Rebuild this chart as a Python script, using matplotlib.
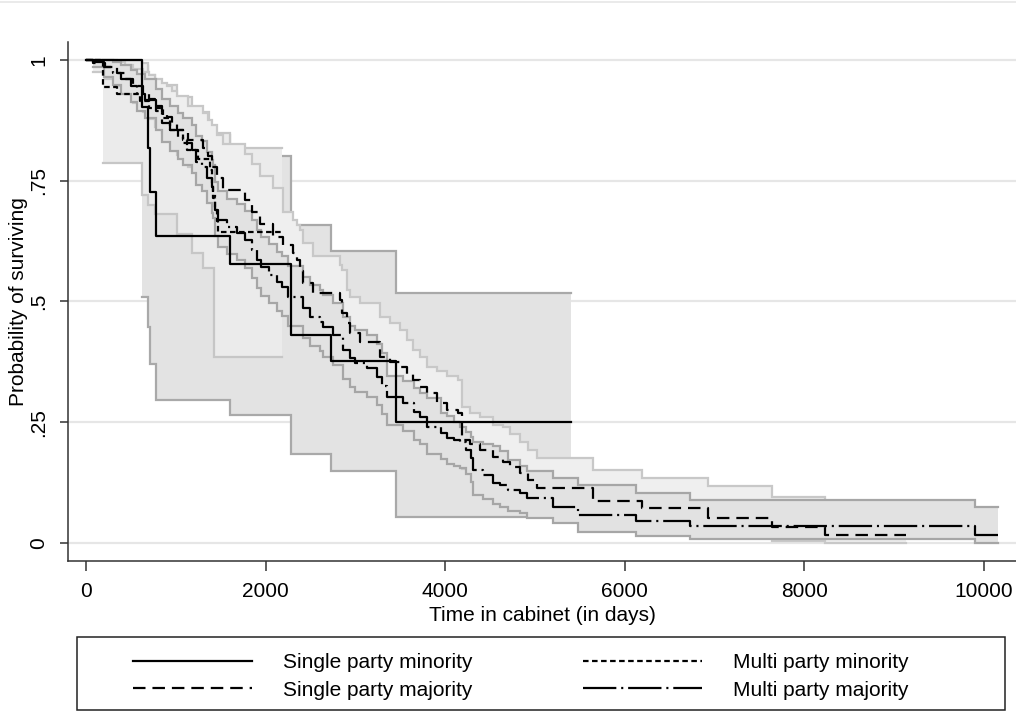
import numpy as np
import matplotlib.pyplot as plt
from matplotlib.patches import Rectangle
from matplotlib.lines import Line2D

plt.rcParams['font.family'] = ['Liberation Sans', 'DejaVu Sans']
plt.rcParams['lines.scale_dashes'] = False

# Kaplan-Meier estimates (time in days, survival probability)
t_spmin = [0, 620, 694, 713, 780, 1604, 2283, 2728, 3449, 5397]
s_spmin = [1, .903, .818, .727, .636, .578, .431, .377, .25, .25]

t_spmaj = [0, 78, 212, 345, 434, 523, 635, 700, 768, 850, 902, 960, 1013, 1136, 1303,
           1359, 1403, 1459, 1526, 1771, 1849, 1938, 2082, 2194, 2305, 2350, 2383, 2416,
           2528, 2828, 2851, 2906, 2940, 3051, 3274, 3385, 3497, 3575, 3641, 3719, 3797,
           3909, 4020, 4142, 4187, 4276, 4387, 4532, 4644, 4722, 4833, 4922, 5022, 5646,
           6191, 6926, 7636, 8229, 9131]
s_spmaj = [1, .994, .985, .973, .96, .945, .93, .918, .905, .893, .882, .868, .855, .834,
           .818, .80, .778, .755, .731, .71, .685, .66, .634, .617, .6, .586, .562, .538,
           .518, .503, .476, .455, .435, .416, .385, .375, .364, .35, .337, .323, .31,
           .29, .275, .269, .213, .205, .193, .178, .167, .157, .145, .13, .114, .087,
           .072, .052, .034, .0166, .0166]

t_mpmin = [0, 190, 345, 600, 700, 860, 940, 1080, 1120, 1250, 1380, 1400, 1420, 1440,
           1459, 1470, 2190]
s_mpmin = [1, .944, .93, .915, .9, .88, .855, .835, .814, .795, .772, .745, .715, .69,
           .667, .644, .644]

t_mpmaj = [0, 78, 200, 301, 390, 500, 568, 660, 780, 850, 935, 1020, 1080, 1180, 1230,
           1290, 1350, 1400, 1420, 1440, 1470, 1570, 1680, 1770, 1850, 1904, 1950, 2040,
           2127, 2180, 2250, 2416, 2490, 2606, 2640, 2750, 2860, 2940, 3000, 3130, 3240,
           3300, 3352, 3530, 3650, 3720, 3800, 3950, 4020, 4100, 4170, 4230, 4290, 4310,
           4420, 4530, 4610, 4700, 4830, 4910, 5200, 5480, 6130, 6725, 9900, 10156]
s_mpmaj = [1, .995, .985, .973, .96, .945, .93, .917, .895, .87, .855, .84, .828, .814,
           .789, .778, .755, .737, .725, .69, .669, .654, .642, .627, .607, .586, .571,
           .555, .54, .53, .51, .486, .468, .458, .447, .43, .40, .383, .373, .362, .344,
           .325, .302, .29, .271, .261, .24, .228, .217, .213, .209, .193, .175, .151,
           .14, .125, .12, .11, .104, .0925, .075, .058, .046, .035, .0166, .0166]

# 95% confidence bands
ci_t_spmin = [620, 694, 713, 780, 1604, 2283, 2728, 3449, 5397]
ci_lo_spmin = [.51, .447, .37, .296, .265, .184, .15, .054, .054]
ci_hi_spmin = [.987, .952, .903, .845, .80, .658, .605, .518, .518]

ci_t_mpmin = [190, 620, 694, 768, 1010, 1177, 1300, 1373, 1425, 1604, 2179]
ci_lo_mpmin = [.786, .72, .70, .68, .64, .60, .57, .57, .386, .386, .386]
ci_hi_mpmin = [1.0, .993, .969, .948, .924, .893, .893, .848, .848, .817, .817]

ci_t_spmaj = t_spmaj[1:]
ci_hi_spmaj = [1.0, 1.0, .995, .99, .982, .975, .968, .96, .952, .945, .935, .925, .905,
               .89, .875, .865, .845, .825, .805, .785, .76, .735, .685, .669, .658, .648,
               .62, .593, .576, .565, .524, .51, .497, .468, .455, .441, .42, .40, .385,
               .364, .355, .345, .337, .282, .27, .26, .245, .24, .225, .21, .193, .175,
               .151, .134, .117, .096, .06, .06]
ci_lo_spmaj = [.975, .96, .945, .93, .91, .893, .878, .862, .848, .835, .818, .803, .778,
               .76, .74, .715, .69, .664, .642, .615, .589, .562, .544, .526, .512, .488,
               .464, .444, .43, .403, .382, .362, .344, .314, .304, .294, .281, .268, .255,
               .243, .224, .21, .204, .153, .146, .135, .122, .112, .103, .093, .08, .066,
               .045, .034, .02, .005, 0.0, 0.0]

ci_t_mpmaj = t_mpmaj[1:]
ci_hi_mpmaj = [1.0, 1.0, .995, .99, .98, .97, .96, .94, .92, .905, .89, .88, .865, .843,
               .832, .81, .793, .782, .748, .728, .713, .702, .687, .668, .648, .633, .618,
               .603, .594, .574, .551, .533, .523, .513, .496, .467, .45, .44, .43, .412,
               .393, .345, .335, .32, .31, .30, .27, .262, .25, .24, .23, .219, .21, .205,
               .20, .19, .172, .16, .148, .134, .12, .103, .089, .074, .074]
ci_lo_mpmaj = [.985, .965, .948, .93, .912, .895, .88, .855, .83, .812, .795, .782, .766,
               .74, .728, .703, .684, .672, .635, .613, .598, .585, .57, .549, .528, .512,
               .496, .48, .47, .45, .425, .407, .397, .386, .369, .34, .323, .313, .302,
               .285, .266, .244, .232, .214, .205, .185, .174, .164, .16, .156, .142, .126,
               .10, .092, .08, .075, .067, .062, .052, .041, .022, .0145, .009, .0006,
               .0006]

labels = ['Single party minority', 'Single party majority',
          'Multi party minority', 'Multi party majority']


def step_xy(t, v):
    t = np.asarray(t, float)
    v = np.asarray(v, float)
    return np.repeat(t, 2)[1:], np.repeat(v, 2)[:-1]


def band(ax, t, lo, hi, fill, edge, z):
    ax.fill_between(t, lo, hi, step='post', facecolor=fill, edgecolor='none', zorder=z)
    for v in (lo, hi):
        x, y = step_xy(t, v)
        ax.plot(x, y, color=edge, lw=1.6, zorder=z + 0.1, solid_joinstyle='miter')


fig = plt.figure(figsize=(10.16, 7.2), dpi=100)
ax = fig.add_axes([68 / 1016, 159 / 720, 948 / 1016, 519 / 720])

band(ax, ci_t_spmin, ci_lo_spmin, ci_hi_spmin, '#e3e3e3', '#a9a9a9', 1)
band(ax, ci_t_mpmin, ci_lo_mpmin, ci_hi_mpmin, '#ebebeb', '#c6c6c6', 2)
band(ax, ci_t_spmaj, ci_lo_spmaj, ci_hi_spmaj, '#efefef', '#c8c8c8', 3)
band(ax, ci_t_mpmaj, ci_lo_mpmaj, ci_hi_mpmaj, '#e2e2e2', '#a6a6a6', 4)

lw = 1.6
curves = []
for t, s, ls in [(t_spmin, s_spmin, '-'),
                 (t_spmaj, s_spmaj, (0, (9, 5))),
                 (t_mpmin, s_mpmin, (0, (4, 2.5))),
                 (t_mpmaj, s_mpmaj, (0, (24, 3.5, 1.5, 3.5)))]:
    x, y = step_xy(t, s)
    ln, = ax.plot(x, y, color='black', lw=lw, linestyle=ls, zorder=10)
    curves.append(ln)

ax.set_xlim(-200, 10356)
ax.set_ylim(-0.0373, 1.037)
ax.set_xticks([0, 2000, 4000, 6000, 8000, 10000])
ax.set_yticks([0, .25, .5, .75, 1])
ax.set_yticklabels(['0', '.25', '.5', '.75', '1'], rotation=90, va='center')
ax.yaxis.grid(True, color='#e6e6e6', lw=1.6, zorder=0)
ax.set_axisbelow(True)
for side in ('top', 'right'):
    ax.spines[side].set_visible(False)
for side in ('left', 'bottom'):
    ax.spines[side].set_color('#333333')
    ax.spines[side].set_linewidth(1.1)
fs = 15
ax.tick_params(axis='y', length=6, width=1.1, color='#333333', pad=8, labelsize=fs)
ax.tick_params(axis='x', length=7, width=1.1, color='#333333', pad=8, labelsize=fs)
ax.set_xlabel('Time in cabinet (in days)', fontsize=fs, labelpad=4)
ax.set_ylabel('Probability of surviving', fontsize=fs, labelpad=1)

# legend box with two columns
fig.add_artist(Rectangle((77 / 1016, 10 / 720), 928 / 1016, 73 / 720,
                         transform=fig.transFigure, facecolor='none',
                         edgecolor='#222222', lw=1.1))
for i, x0 in enumerate([133 / 1016, 583 / 1016]):
    fig.legend(curves[2 * i:2 * i + 2], labels[2 * i:2 * i + 2], loc='upper left',
               bbox_to_anchor=(x0, 67 / 720), frameon=False, fontsize=fs,
               handlelength=5.7, handletextpad=1.5, labelspacing=0.42,
               borderpad=0, borderaxespad=0)

fig.add_artist(Line2D([0, 1], [1 - 2 / 720, 1 - 2 / 720], transform=fig.transFigure,
                      color='#e6e6e6', lw=1.2))

plt.savefig('out.png', dpi=100)
